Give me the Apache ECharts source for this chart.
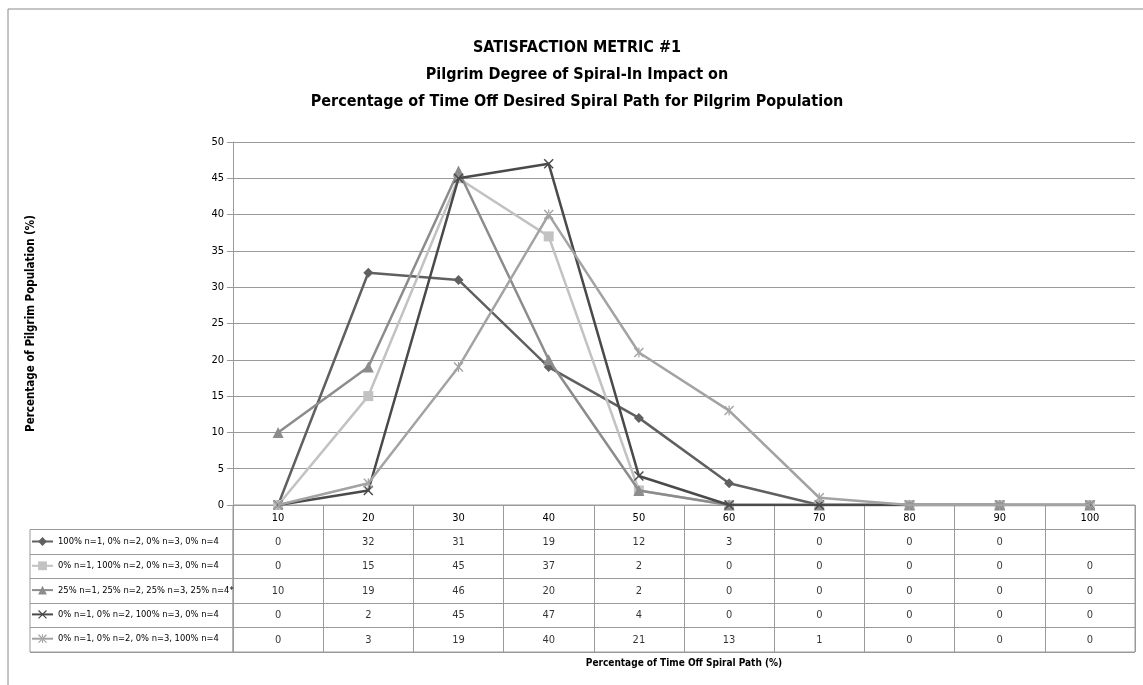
<!DOCTYPE html>
<html>
<head>
<meta charset="utf-8">
<script src="https://cdn.jsdelivr.net/npm/echarts@6/dist/echarts.min.js"></script>
<style>
  html, body { margin: 0; padding: 0; background: #fff; }
  #chart { width: 1143px; height: 685px; }
</style>
</head>
<body>
<div id="chart"></div>
<script>
var chart = echarts.init(document.getElementById('chart'));

// categories (x) = % of time off spiral path
var cats = ['10', '20', '30', '40', '50', '60', '70', '80', '90', '100'];
var names = [
  '100% n=1, 0% n=2, 0% n=3, 0% n=4',
  '0% n=1, 100% n=2, 0% n=3, 0% n=4',
  '25% n=1, 25% n=2, 25% n=3, 25% n=4*',
  '0% n=1, 0% n=2, 100% n=3, 0% n=4',
  '0% n=1, 0% n=2, 0% n=3, 100% n=4'
];
var s1 = [0, 32, 31, 19, 12, 3, 0, 0, 0, null];
var s2 = [0, 15, 45, 37, 2, 0, 0, 0, 0, 0];
var s3 = [10, 19, 46, 20, 2, 0, 0, 0, 0, 0];
var s4 = [0, 2, 45, 47, 4, 0, 0, 0, 0, 0];
var s5 = [0, 3, 19, 40, 21, 13, 1, 0, 0, 0];
var yTicks = [0, 50, 5];   // min, max, step

var allData = [s1, s2, s3, s4, s5];
var colors = ['#606060', '#c2c2c2', '#8c8c8c', '#4a4a4a', '#a3a3a3'];
var symbols = [
  'diamond',
  'rect',
  'triangle',
  'path://M0,1L1,0L5,4L9,0L10,1L6,5L10,9L9,10L5,6L1,10L0,9L4,5Z',
  'path://M0,1L1,0L5,4L9,0L10,1L6,5L10,9L9,10L5,6L1,10L0,9L4,5Z M4.4,0L4.4,10L5.6,10L5.6,0Z'
];
var symSize = [10, 10, 11, 10, 10];

var fontName = "'DejaVu Sans Condensed', 'Liberation Sans Narrow', sans-serif";
var gridLine = '#9a9a9a';

var lineSeries = allData.map(function (d, i) {
  return {
    name: names[i],
    type: 'line',
    xAxisIndex: 0,
    yAxisIndex: 0,
    data: d,
    symbol: symbols[i],
    symbolSize: symSize[i],
    showAllSymbol: true,
    lineStyle: { color: colors[i], width: 2.5 },
    itemStyle: { color: colors[i] },
    z: 3 + i
  };
});

// table cells: [column, row, value]
var cells = [];
allData.forEach(function (d, i) {
  d.forEach(function (v, j) {
    if (v !== null) cells.push([j, i + 1, v]);
  });
});

var tableRows = ['hdr'].concat(names);

var option = {
  backgroundColor: '#fff',
  animation: false,
  textStyle: { fontFamily: fontName },
  title: {
    text: 'SATISFACTION METRIC #1\nPilgrim Degree of Spiral-In Impact on\nPercentage of Time Off Desired Spiral Path for Pilgrim Population',
    left: 572,
    textAlign: 'center',
    top: 29,
    textStyle: { fontFamily: fontName, fontSize: 16, fontWeight: 'bold', color: '#000', lineHeight: 27 }
  },
  legend: {
    data: names,
    orient: 'vertical',
    left: 31,
    top: 537,
    padding: 0,
    itemWidth: 21,
    itemHeight: 11,
    itemGap: 15.3,
    textStyle: { fontFamily: fontName, fontSize: 9.3, color: '#000' }
  },
  graphic: [{
    type: 'rect',
    shape: { x: 8, y: 9, width: 1200, height: 720 },
    style: { fill: 'none', stroke: '#8a8a8a', lineWidth: 1 },
    silent: true
  }],
  grid: [
    { left: 233, top: 142, width: 902, height: 363 },
    { left: 233, top: 505, width: 902, height: 147, show: true, borderColor: gridLine, borderWidth: 1 },
    { left: 30, top: 529.5, width: 203, height: 122.5, show: true, borderColor: gridLine, borderWidth: 1 }
  ],
  xAxis: [
    {
      gridIndex: 0,
      type: 'category',
      data: cats,
      boundaryGap: true,
      axisLine: { lineStyle: { color: gridLine } },
      axisTick: { show: false },
      axisLabel: { margin: 8, fontSize: 11, color: '#000', fontFamily: fontName },
      name: 'Percentage of Time Off Spiral Path (%)',
      nameLocation: 'middle',
      nameGap: 153,
      nameTextStyle: { fontSize: 10, fontWeight: 'bold', color: '#000', fontFamily: fontName }
    },
    {
      gridIndex: 1,
      type: 'category',
      data: cats,
      boundaryGap: true,
      axisLine: { show: false },
      axisTick: { show: false },
      axisLabel: { show: false },
      splitLine: { show: true, lineStyle: { color: gridLine } }
    },
    {
      gridIndex: 2,
      type: 'value',
      show: false
    }
  ],
  yAxis: [
    {
      gridIndex: 0,
      type: 'value',
      min: yTicks[0],
      max: yTicks[1],
      interval: yTicks[2],
      axisLine: { show: true, lineStyle: { color: gridLine } },
      axisTick: { show: true, length: 6, lineStyle: { color: gridLine } },
      axisLabel: { margin: 9, fontSize: 11, color: '#000', fontFamily: fontName },
      splitLine: { lineStyle: { color: gridLine } },
      name: 'Percentage of Pilgrim Population (%)',
      nameLocation: 'middle',
      nameGap: 196,
      nameTextStyle: { fontSize: 11.5, fontWeight: 'bold', color: '#000', fontFamily: fontName }
    },
    {
      gridIndex: 1,
      type: 'category',
      data: tableRows,
      inverse: true,
      axisLine: { show: false },
      axisTick: { show: false },
      axisLabel: { show: false },
      splitLine: { show: true, lineStyle: { color: gridLine } }
    },
    {
      gridIndex: 2,
      type: 'category',
      data: names,
      inverse: true,
      axisLine: { show: false },
      axisTick: { show: false },
      axisLabel: { show: false },
      splitLine: { show: true, lineStyle: { color: gridLine } }
    }
  ],
  series: lineSeries.concat([{
    name: 'table',
    type: 'scatter',
    xAxisIndex: 1,
    yAxisIndex: 1,
    data: cells,
    symbolSize: 1,
    itemStyle: { color: 'rgba(0,0,0,0)' },
    label: {
      show: true,
      position: 'inside',
      formatter: function (p) { return p.value[2]; },
      fontSize: 11,
      color: '#000',
      fontFamily: fontName
    },
    silent: true
  }])
};

chart.setOption(option);
</script>
</body>
</html>
